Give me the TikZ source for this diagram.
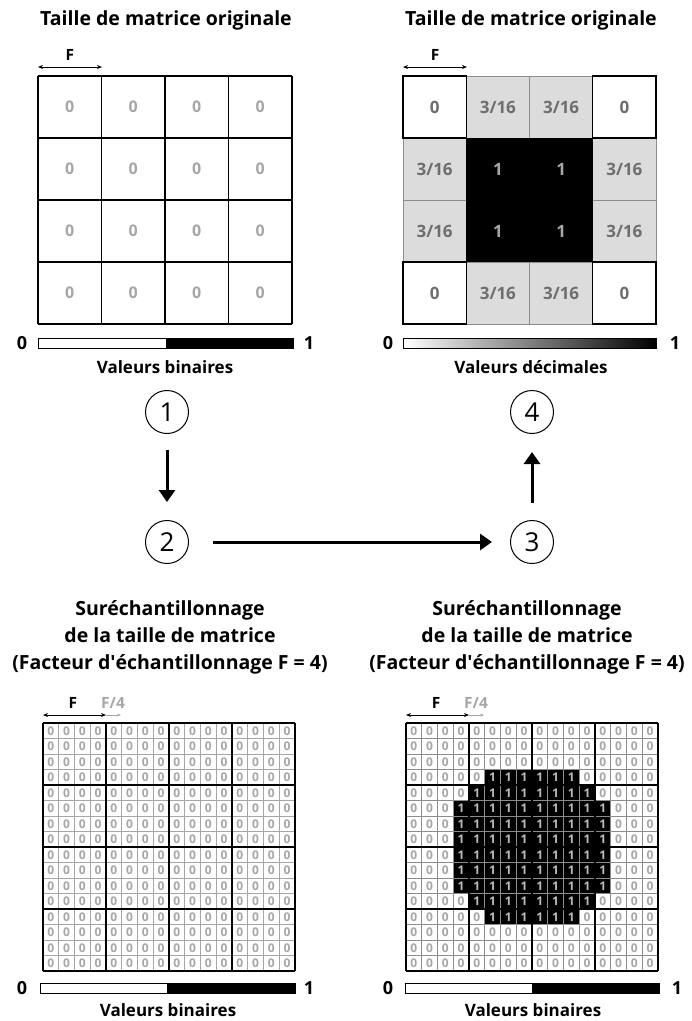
\documentclass[tikz,border=0pt]{standalone}
\usepackage{fontspec}
\setmainfont{Open Sans}
\usetikzlibrary{arrows.meta}
\definecolor{zgray}{HTML}{A6A6A6}
\definecolor{dtext}{HTML}{6E6E6E}
\definecolor{cellgray}{HTML}{DCDCDC}
\definecolor{linegray}{HTML}{8C8C8C}
\definecolor{onegray}{HTML}{BDBDBD}
\begin{document}
\begin{tikzpicture}[x=1pt,y=-1pt,
  title/.style={font=\bfseries\fontsize{19.5}{27}\selectfont, align=center, inner sep=0pt},
  bigzero/.style={font=\bfseries\fontsize{16}{18}\selectfont, text=zgray, inner sep=0pt},
  dval/.style={font=\bfseries\fontsize{17}{19}\selectfont, text=dtext, inner sep=0pt},
  oneval/.style={font=\bfseries\fontsize{17}{19}\selectfont, text=zgray, inner sep=0pt},
  smallzero/.style={font=\bfseries\fontsize{12}{13}\selectfont, text=zgray, inner sep=0pt},
  smallone/.style={font=\bfseries\fontsize{12}{13}\selectfont, text=onegray, inner sep=0pt},
  thickgrid/.style={line width=1.4pt, black},
  thingrid/.style={line width=1pt, linegray},
  barlabel/.style={font=\bfseries\fontsize{18}{20}\selectfont, inner sep=0pt},
  barcaption/.style={font=\bfseries\fontsize{17}{19}\selectfont, inner sep=0pt},
  flabel/.style={font=\bfseries\fontsize{15.5}{17}\selectfont, inner sep=0pt},
  farrow/.style={line width=0.8pt, {Stealth[length=5pt,width=4pt]}-{Stealth[length=5pt,width=4pt]}},
  circ/.style={circle, draw, line width=1pt, minimum size=43pt, inner sep=0pt, font=\fontsize{26}{28}\selectfont},
  bigarrow/.style={line width=3pt, -{Triangle[length=12pt,width=16pt]}}
]
\useasboundingbox (0,0) rectangle (692,1021);

% ---------- Titles ----------
\node[title] (t1) at (166,20) {Taille de matrice originale};
\node[title] (t2) at (531,20) {Taille de matrice originale};
\node[title] (t3) at (170,637) {Suréchantillonnage\\de la taille de matrice\\(Facteur d\textquotesingle échantillonnage F = 4)};
\node[title] (t4) at (527,637) {Suréchantillonnage\\de la taille de matrice\\(Facteur d\textquotesingle échantillonnage F = 4)};

% ---------- Top-left grid ----------
\foreach \r in {0,...,3}
  \foreach \c in {0,...,3}
    \node[bigzero] (tl-\r-\c) at ({38+63.5*(\c+0.5)},{76+62*(\r+0.5)}) {0};
\foreach \i in {0,...,4} {
  \draw[thickgrid] ({38+63.5*\i},76) -- ({38+63.5*\i},324);
  \draw[thickgrid] (38,{76+62*\i}) -- (292,{76+62*\i});
}
\coordinate (fl1) at (38,67); \coordinate (fl2) at (102,67);
\draw[farrow] (fl1) -- (fl2);
\node[flabel] (fl) at (70,55) {F};

% ---------- Top-right grid ----------
\foreach \r/\c in {0/1,0/2,1/0,1/3,2/0,2/3,3/1,3/2}
  \fill[cellgray] ({403+63.25*\c},{76+62*\r}) rectangle ++(63.25,62);
\foreach \i in {0,...,4} {
  \draw[thingrid] ({403+63.25*\i},76) -- ({403+63.25*\i},324);
  \draw[thingrid] (403,{76+62*\i}) -- (656,{76+62*\i});
}
\fill[black] ({403+63.25},{76+62}) rectangle ++(126.5,124);
\foreach \r/\c in {0/0,0/3,3/0,3/3}
  \draw[thickgrid] ({403+63.25*\c},{76+62*\r}) rectangle ++(63.25,62);
\foreach \r/\c/\t in {0/0/0,0/1/{3/16},0/2/{3/16},0/3/0,1/0/{3/16},1/3/{3/16},2/0/{3/16},2/3/{3/16},3/0/0,3/1/{3/16},3/2/{3/16},3/3/0}
  \node[dval] (tr-\r-\c) at ({403+63.25*(\c+0.5)},{76+62*(\r+0.5)}) {\t};
\foreach \r/\c in {1/1,1/2,2/1,2/2}
  \node[oneval] (tr-\r-\c) at ({403+63.25*(\c+0.5)},{76+62*(\r+0.5)}) {1};
\coordinate (fr1) at (403,67); \coordinate (fr2) at (467,67);
\draw[farrow] (fr1) -- (fr2);
\node[flabel] (fr) at (435,55) {F};

% ---------- Top colour bars ----------
\fill[white] (38,338) rectangle (166,348);
\fill[black] (166,338) rectangle (293,348);
\draw[line width=0.7pt] (38,338) rectangle (293,348);
\node[barlabel] (b1z) at (22,343) {0};
\node[barlabel] (b1o) at (309,343) {1};
\node[barcaption] (b1c) at (165,367) {Valeurs binaires};

\shade[left color=white, right color=black] (403,338) rectangle (656,348);
\draw[line width=0.7pt] (403,338) rectangle (656,348);
\node[barlabel] (b2z) at (388,343) {0};
\node[barlabel] (b2o) at (675,343) {1};
\node[barcaption] (b2c) at (531,367) {Valeurs décimales};

% ---------- Process circles ----------
\node[circ] (c1) at (167,412) {1};
\node[circ] (c2) at (167,542) {2};
\node[circ] (c3) at (532,542) {3};
\node[circ] (c4) at (532,412) {4};
\draw[bigarrow, shorten <=16pt, shorten >=18pt] (c1) -- (c2);
\draw[bigarrow, shorten <=24pt, shorten >=18pt] (c2) -- (c3);
\draw[bigarrow, shorten <=17pt, shorten >=18pt] (c3) -- (c4);

% ---------- Bottom-left grid ----------
\foreach \r in {0,...,15}
  \foreach \c in {0,...,15}
    \node[smallzero] (bl-\r-\c) at ({43+15.75*(\c+0.5)},{723+15.5*(\r+0.5)}) {0};
\foreach \i in {0,...,16} {
  \draw[thingrid, zgray] ({43+15.75*\i},723) -- ({43+15.75*\i},971);
  \draw[thingrid, zgray] (43,{723+15.5*\i}) -- (295,{723+15.5*\i});
}
\foreach \i in {0,4,8,12,16} {
  \draw[thickgrid] ({43+15.75*\i},723) -- ({43+15.75*\i},971);
  \draw[thickgrid] (43,{723+15.5*\i}) -- (295,{723+15.5*\i});
}
\coordinate (bf1) at (43,715); \coordinate (bf2) at (106,715); \coordinate (bf3) at (121,715);
\draw[farrow] (bf1) -- (bf2);
\draw[line width=0.6pt, zgray, -{Stealth[length=4pt,width=3pt]}] (bf2) -- (bf3);
\node[flabel] (blf) at (73,703) {F};
\node[flabel, text=zgray] (blf4) at (113,703) {F/4};

% ---------- Bottom-right grid ----------
\foreach \r in {0,...,15}
  \foreach \c in {0,...,15} {
    \pgfmathtruncatemacro{\v}{(abs(2*\c-15)<10)*(abs(2*\r-15)<10)*((abs(2*\c-15)+abs(2*\r-15))<15)}
    \ifnum\v=1
      \fill[black] ({406+15.75*\c},{723+15.5*\r}) rectangle ++(15.75,15.5);
    \fi
  }
\foreach \i in {0,...,16} {
  \draw[thingrid] ({406+15.75*\i},723) -- ({406+15.75*\i},971);
  \draw[thingrid] (406,{723+15.5*\i}) -- (658,{723+15.5*\i});
}
\foreach \r in {0,...,15}
  \foreach \c in {0,...,15} {
    \pgfmathtruncatemacro{\v}{(abs(2*\c-15)<10)*(abs(2*\r-15)<10)*((abs(2*\c-15)+abs(2*\r-15))<15)}
    \ifnum\v=1
      \node[smallone] (br-\r-\c) at ({406+15.75*(\c+0.5)},{723+15.5*(\r+0.5)}) {1};
    \else
      \node[smallzero] (br-\r-\c) at ({406+15.75*(\c+0.5)},{723+15.5*(\r+0.5)}) {0};
    \fi
  }
\foreach \i in {0,4,8,12,16} {
  \draw[thickgrid] ({406+15.75*\i},723) -- ({406+15.75*\i},971);
  \draw[thickgrid] (406,{723+15.5*\i}) -- (658,{723+15.5*\i});
}
\coordinate (rf1) at (406,715); \coordinate (rf2) at (469,715); \coordinate (rf3) at (484,715);
\draw[farrow] (rf1) -- (rf2);
\draw[line width=0.6pt, zgray, -{Stealth[length=4pt,width=3pt]}] (rf2) -- (rf3);
\node[flabel] (brf) at (436,703) {F};
\node[flabel, text=zgray] (brf4) at (476,703) {F/4};

% ---------- Bottom colour bars ----------
\fill[white] (40,983) rectangle (167,993);
\fill[black] (167,983) rectangle (295,993);
\draw[line width=0.7pt] (40,983) rectangle (295,993);
\node[barlabel] (b3z) at (22,988) {0};
\node[barlabel] (b3o) at (309,988) {1};
\node[barcaption] (b3c) at (168,1010) {Valeurs binaires};

\fill[white] (405,983) rectangle (532,993);
\fill[black] (532,983) rectangle (659,993);
\draw[line width=0.7pt] (405,983) rectangle (659,993);
\node[barlabel] (b4z) at (388,988) {0};
\node[barlabel] (b4o) at (677,988) {1};
\node[barcaption] (b4c) at (533,1010) {Valeurs binaires};
\end{tikzpicture}
\end{document}
